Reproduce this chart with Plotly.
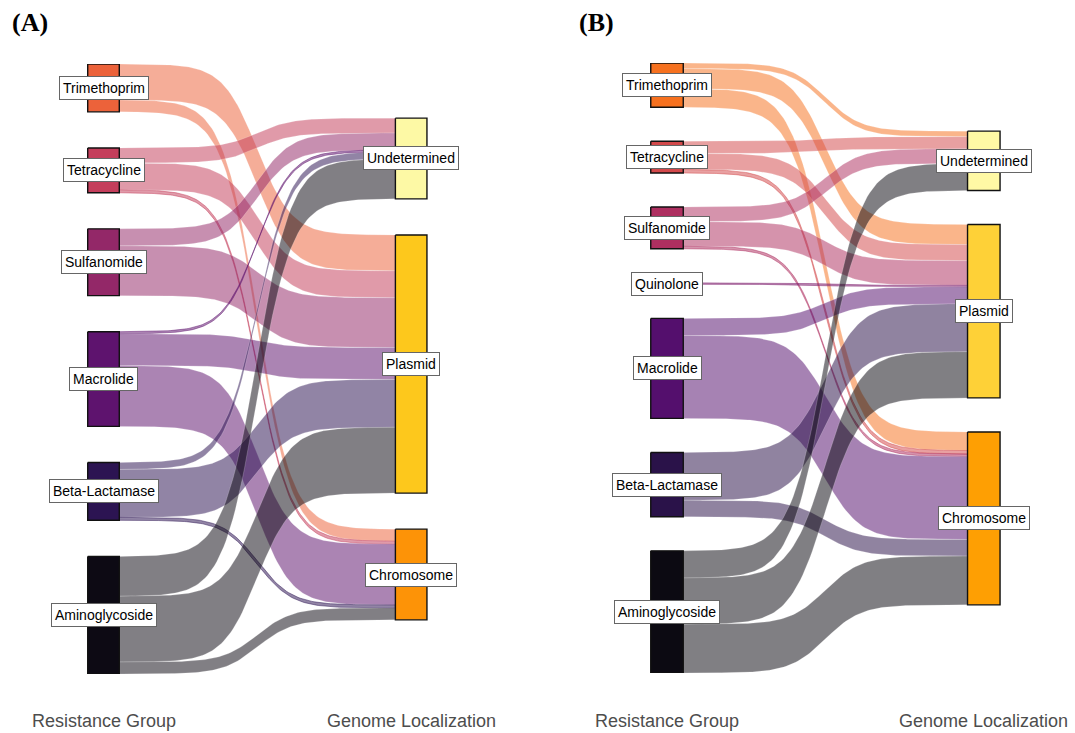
import numpy as np
import plotly.graph_objects as go

# ---------------- data ----------------
localizations = ["Undetermined", "Plasmid", "Chromosome"]

# Panel A: number of genes per resistance group and localization
groups_a = ["Trimethoprim", "Tetracycline", "Sulfanomide", "Macrolide",
            "Beta-Lactamase", "Aminoglycoside"]
undetermined_a = [0, 15, 17, 2, 7, 40]
plasmid_a = [36, 27, 50, 32, 48, 66]
chromosome_a = [12, 3, 0, 61, 3, 12]

# Panel B
groups_b = ["Trimethoprim", "Tetracycline", "Sulfanomide", "Quinolone",
            "Macrolide", "Beta-Lactamase", "Aminoglycoside"]
undetermined_b = [5.5, 12, 14.5, 0, 0, 0, 27]
plasmid_b = [20, 16, 24.5, 1.5, 17, 47.5, 46]
chromosome_b = [18.5, 3.5, 2.5, 0, 82.5, 16.5, 48.5]

# inferno-style palettes
group_colors_a = ["#EC623A", "#C43E5B", "#932868", "#5E136E", "#2C1452", "#0D0A14"]
loc_colors_a = ["#FDF9A5", "#FDC81C", "#FD9307"]
group_colors_b = ["#F6711F", "#D3494B", "#AE2F60", "#7E1E6D", "#540F6D", "#2A1249", "#0C0A12"]
loc_colors_b = ["#FFF9A5", "#FED137", "#FE9F03"]

GAP_FRAC = 0.084     # vertical space between nodes, as a share of the total
NODE_HALF = 0.0513   # half node width in axis units
FLOW_ALPHA = 0.52
SMOOTH = 8


def rgba(hex_color, alpha):
    h = hex_color.lstrip("#")
    r, g, b = int(h[0:2], 16), int(h[2:4], 16), int(h[4:6], 16)
    return f"rgba({r},{g},{b},{alpha})"


def sigmoid_curve(x0, x1, y0, y1, n=120):
    z = np.linspace(-SMOOTH, SMOOTH, n)
    s = 1 / (1 + np.exp(-z))
    s = (s - s[0]) / (s[-1] - s[0])
    xs = np.linspace(x0, x1, n)
    return xs, y0 + (y1 - y0) * s


def build_panel(groups, columns, gcols, lcols, xa, ya):
    values = np.array(columns, dtype=float).T          # rows: groups, cols: localizations
    g_tot = values.sum(axis=1)
    l_tot = values.sum(axis=0)
    total = values.sum()
    gap = GAP_FRAC * total
    span_left = total + gap * (len(groups) - 1)
    span_right = total + gap * (len(localizations) - 1)

    # node extents
    g_top, cur = [], 0.0
    for t in g_tot:
        g_top.append(cur)
        cur += t + gap
    l_top, cur = [], (span_left - span_right) / 2
    for t in l_tot:
        l_top.append(cur)
        cur += t + gap

    # flow attachment points
    src = {}
    for i in range(len(groups)):
        c = g_top[i]
        for j in range(len(localizations)):
            v = values[i, j]
            if v > 0:
                src[(i, j)] = (c, c + v)
                c += v
    dst = {}
    for j in range(len(localizations)):
        c = l_top[j]
        for i in range(len(groups)):
            v = values[i, j]
            if v > 0:
                dst[(i, j)] = (c, c + v)
                c += v

    traces = []
    xl, xr = 1 + NODE_HALF, 2 - NODE_HALF
    for (i, j), (s0, s1) in src.items():
        d0, d1 = dst[(i, j)]
        xt, yt = sigmoid_curve(xl, xr, s0, d0)
        xb, yb = sigmoid_curve(xl, xr, s1, d1)
        xs = np.concatenate([xt, xb[::-1], xt[:1]])
        ys = np.concatenate([yt, yb[::-1], yt[:1]])
        thin = values[i, j] < 5
        edge = (dict(width=0.8, color=rgba(gcols[i], 0.6)) if thin
                else dict(width=0.5, color="rgba(255,255,255,0.4)"))
        traces.append(go.Scatter(
            x=xs, y=ys, mode="lines", fill="toself",
            fillcolor=rgba(gcols[i], FLOW_ALPHA), line=edge,
            hoverinfo="skip", showlegend=False, xaxis=xa, yaxis=ya))

    def node(xc, top, h, color):
        x0, x1 = xc - NODE_HALF, xc + NODE_HALF
        return go.Scatter(
            x=[x0, x1, x1, x0, x0], y=[top, top, top + h, top + h, top],
            mode="lines", fill="toself", fillcolor=color,
            line=dict(color="#111111", width=1.4),
            hoverinfo="skip", showlegend=False, xaxis=xa, yaxis=ya)

    anns = []
    lab = dict(bgcolor="white", bordercolor="#666666", borderwidth=1, borderpad=3,
               showarrow=False, font=dict(family="Liberation Sans, Arial", size=14, color="black"),
               xref=xa, yref=ya, xanchor="center", yanchor="middle")
    for i, name in enumerate(groups):
        traces.append(node(1, g_top[i], g_tot[i], gcols[i]))
        anns.append(dict(x=1, y=g_top[i] + g_tot[i] / 2, text=name, **lab))
    for j, name in enumerate(localizations):
        traces.append(node(2, l_top[j], l_tot[j], lcols[j]))
        anns.append(dict(x=2, y=l_top[j] + l_tot[j] / 2, text=name, **lab))
    return traces, anns, span_left


fig = go.Figure()
tr_a, an_a, span_a = build_panel(groups_a, [undetermined_a, plasmid_a, chromosome_a],
                                 group_colors_a, loc_colors_a, "x", "y")
tr_b, an_b, span_b = build_panel(groups_b, [undetermined_b, plasmid_b, chromosome_b],
                                 group_colors_b, loc_colors_b, "x2", "y2")
for t in tr_a + tr_b:
    fig.add_trace(t)

W, H = 1075, 733
hidden = dict(visible=False, showgrid=False, zeroline=False, fixedrange=True)
fig.update_layout(
    width=W, height=H, margin=dict(l=0, r=0, t=0, b=0),
    paper_bgcolor="white", plot_bgcolor="white", showlegend=False,
    xaxis=dict(domain=[0, 0.5], range=[0.6636, 2.4106], **hidden),
    yaxis=dict(domain=[1 - 674 / H, 1 - 64 / H], range=[span_a, 0], anchor="x", **hidden),
    xaxis2=dict(domain=[0.5, 1], range=[0.5912, 2.2879], anchor="y2", **hidden),
    yaxis2=dict(domain=[1 - 673 / H, 1 - 63 / H], range=[span_b, 0], anchor="x2", **hidden),
)

axis_names = ["Resistance Group", "Genome Localization"]
annotations = an_a + an_b
for xa in ["x", "x2"]:
    for k, name in enumerate(axis_names):
        annotations.append(dict(x=k + 1, y=1 - 721 / H, xref=xa, yref="paper",
                                text=name, showarrow=False, xanchor="center", yanchor="middle",
                                font=dict(family="Liberation Sans, Arial", size=18, color="#4D4D4D")))
for x, txt in [(30, "(A)"), (596, "(B)")]:
    annotations.append(dict(x=x / W, y=1 - 22 / H, xref="paper", yref="paper",
                            text=f"<b>{txt}</b>", showarrow=False, xanchor="center", yanchor="middle",
                            font=dict(family="Liberation Serif, Times New Roman", size=26, color="black")))
fig.update_layout(annotations=annotations)

fig.write_html("out.html")
